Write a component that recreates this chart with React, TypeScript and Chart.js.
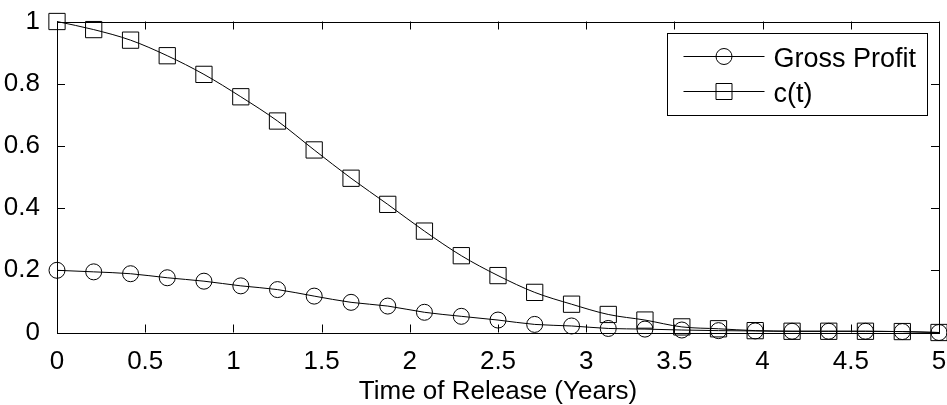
import { useEffect, useRef } from 'react';
import { Chart, registerables } from 'chart.js';

Chart.register(...registerables);

const times = [
  0, 0.208, 0.417, 0.625, 0.833, 1.042, 1.25, 1.458, 1.667, 1.875, 2.083, 2.292, 2.5,
  2.708, 2.917, 3.125, 3.333, 3.542, 3.75, 3.958, 4.167, 4.375, 4.583, 4.792, 5,
];
const grossProfit = [
  0.2, 0.195, 0.189, 0.176, 0.165, 0.15, 0.138, 0.117, 0.097, 0.085, 0.065, 0.052, 0.04,
  0.026, 0.021, 0.013, 0.011, 0.008, 0.006, 0.005, 0.004, 0.004, 0.004, 0.003, 0,
];
const cOfT = [
  1.0, 0.974, 0.94, 0.89, 0.83, 0.758, 0.68, 0.587, 0.496, 0.412, 0.326, 0.247, 0.183,
  0.129, 0.091, 0.058, 0.04, 0.018, 0.012, 0.006, 0.004, 0.004, 0.004, 0.003, 0,
];
const xTicks = [0, 0.5, 1, 1.5, 2, 2.5, 3, 3.5, 4, 4.5, 5];
const xTickLabels = ['0', '0.5', '1', '1.5', '2', '2.5', '3', '3.5', '4', '4.5', '5'];
const yTicks = [0, 0.2, 0.4, 0.6, 0.8, 1];
const yTickLabels = ['0', '0.2', '0.4', '0.6', '0.8', '1'];
const seriesLabels = ['Gross Profit', 'c(t)'];
const seriesMarkers = ['circle', 'rect'];
const xTitle = 'Time of Release (Years)';

const FONT = '"Liberation Sans", Arial, Helvetica, sans-serif';

const framePlugin = {
  id: 'matlabFrame',
  afterDatasetsDraw(chart: any) {
    const { ctx, chartArea: a, scales } = chart;
    ctx.save();
    ctx.strokeStyle = '#000';
    ctx.lineWidth = 1;
    ctx.strokeRect(Math.round(a.left) + 0.5, Math.round(a.top) + 0.5, Math.round(a.right - a.left), Math.round(a.bottom - a.top));
    const tl = 8;
    ctx.beginPath();
    xTicks.forEach((v) => {
      const px = Math.round(scales.x.getPixelForValue(v)) + 0.5;
      ctx.moveTo(px, a.bottom);
      ctx.lineTo(px, a.bottom - tl);
      ctx.moveTo(px, a.top);
      ctx.lineTo(px, a.top + tl);
    });
    yTicks.forEach((v) => {
      const py = Math.round(scales.y.getPixelForValue(v)) + 0.5;
      ctx.moveTo(a.left, py);
      ctx.lineTo(a.left + tl, py);
      ctx.moveTo(a.right, py);
      ctx.lineTo(a.right - tl, py);
    });
    ctx.stroke();
    ctx.restore();
  },
  afterDraw(chart: any) {
    const { ctx, chartArea: a } = chart;
    const w = 260;
    const h = 82;
    const bx = Math.round(a.right - 12 - w) + 0.5;
    const by = Math.round(a.top + 11.5) + 0.5;
    ctx.save();
    ctx.fillStyle = '#fff';
    ctx.fillRect(bx, by, w, h);
    ctx.strokeStyle = '#000';
    ctx.lineWidth = 1;
    ctx.strokeRect(bx, by, w, h);
    ctx.font = `27px ${FONT}`;
    ctx.textBaseline = 'alphabetic';
    ctx.textAlign = 'left';
    seriesLabels.forEach((label, i) => {
      const ly = Math.round(by + 22.5 + i * 35) + 0.5;
      ctx.beginPath();
      ctx.moveTo(bx + 16, ly);
      ctx.lineTo(bx + 97, ly);
      ctx.stroke();
      const mx = bx + 56.5;
      ctx.beginPath();
      if (seriesMarkers[i] === 'circle') {
        ctx.arc(mx, ly, 8, 0, Math.PI * 2);
      } else {
        ctx.rect(mx - 8, ly - 8, 16, 16);
      }
      ctx.stroke();
      ctx.fillStyle = '#000';
      ctx.fillText(label, bx + 106, by + 33 + i * 35);
    });
    ctx.restore();
  },
};

export default function App() {
  const ref = useRef<HTMLCanvasElement | null>(null);
  useEffect(() => {
    if (!ref.current) return;
    const makeData = (vals: number[]) => times.map((t, i) => ({ x: t, y: vals[i] }));
    const chart = new Chart(ref.current, {
      type: 'line',
      data: {
        datasets: [
          {
            label: seriesLabels[0],
            data: makeData(grossProfit),
            borderColor: '#000',
            borderWidth: 1,
            pointStyle: 'circle',
            pointRadius: 8,
            pointBorderColor: '#000',
            pointBackgroundColor: 'rgba(0,0,0,0)',
            pointBorderWidth: 1,
            cubicInterpolationMode: 'monotone',
            fill: false,
            clip: false,
          } as any,
          {
            label: seriesLabels[1],
            data: makeData(cOfT),
            borderColor: '#000',
            borderWidth: 1,
            pointStyle: 'rect',
            pointRadius: 11.5,
            pointBorderColor: '#000',
            pointBackgroundColor: 'rgba(0,0,0,0)',
            pointBorderWidth: 1,
            cubicInterpolationMode: 'monotone',
            fill: false,
            clip: false,
          } as any,
        ],
      },
      options: {
        responsive: false,
        animation: false,
        devicePixelRatio: 1,
        layout: { autoPadding: false, padding: { top: 21.5, right: 8, left: 0, bottom: 0 } },
        plugins: { legend: { display: false }, tooltip: { enabled: false } },
        events: [],
        scales: {
          x: {
            type: 'linear',
            min: 0,
            max: 5,
            afterBuildTicks: (s: any) => {
              s.ticks = xTicks.map((v) => ({ value: v }));
            },
            afterFit: (s: any) => {
              s.height = 72.5;
              s.paddingLeft = 0;
              s.paddingRight = 0;
            },
            ticks: {
              color: '#000',
              font: { family: FONT, size: 26 },
              padding: 6,
              maxRotation: 0,
              autoSkip: false,
              callback: (v: any) => {
                const i = xTicks.indexOf(Number(v));
                return i >= 0 ? xTickLabels[i] : '';
              },
            },
            grid: { display: false },
            border: { display: false },
            title: {
              display: true,
              text: xTitle,
              color: '#000',
              font: { family: FONT, size: 26 },
              padding: { top: 0, bottom: -2 },
            },
          },
          y: {
            type: 'linear',
            min: 0,
            max: 1,
            afterBuildTicks: (s: any) => {
              s.ticks = yTicks.map((v) => ({ value: v }));
            },
            afterFit: (s: any) => {
              s.width = 57;
              s.paddingTop = 0;
              s.paddingBottom = 0;
            },
            ticks: {
              color: '#000',
              font: { family: FONT, size: 26 },
              padding: 9,
              callback: (v: any) => {
                const i = yTicks.indexOf(Number(v));
                return i >= 0 ? yTickLabels[i] : '';
              },
            },
            grid: { display: false },
            border: { display: false },
          },
        },
      } as any,
      plugins: [framePlugin],
    });
    return () => chart.destroy();
  }, []);
  return (
    <div style={{ position: 'fixed', left: 0, top: 0, width: 947, height: 405, background: '#fff' }}>
      <canvas ref={ref} width={947} height={405} style={{ display: 'block' }} />
    </div>
  );
}
